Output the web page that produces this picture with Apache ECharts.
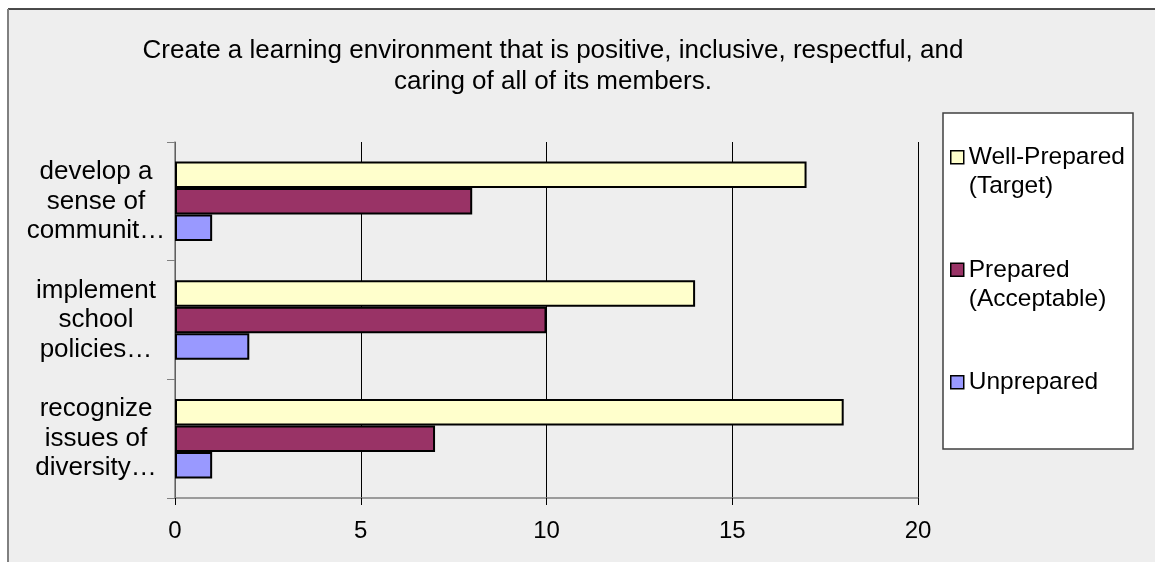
<!DOCTYPE html>
<html>
<head>
<meta charset="utf-8">
<script src="https://cdn.jsdelivr.net/npm/echarts@6/dist/echarts.min.js"></script>
<style>html,body{margin:0;padding:0;background:#fff;}#c{width:1155px;height:562px;}</style>
</head>
<body>
<div id="c"></div>
<script>
const titleText = "Create a learning environment that is positive, inclusive, respectful, and\ncaring of all of its members.";
const categories = ["develop a\nsense of\ncommunit\u2026", "implement\nschool\npolicies\u2026", "recognize\nissues of\ndiversity\u2026"];
const seriesNames = ["Well-Prepared\n(Target)", "Prepared\n(Acceptable)", "Unprepared"];
const wellPrepared = [17, 14, 18];
const prepared = [8, 10, 7];
const unprepared = [1, 2, 1];
const xTicks = [0, 5, 10, 15, 20];
const colors = ["#FFFFCC", "#993366", "#9999FF"];

const FONT = "'Liberation Sans', Arial, sans-serif";
const chart = echarts.init(document.getElementById('c'), null, {renderer: 'canvas'});
const legendIcon = 'path://M0,8h13v13h-13z M0,0 M0,58';

chart.setOption({
  backgroundColor: '#ffffff',
  animation: false,
  graphic: [
    {type: 'rect', shape: {x: 8, y: 9, width: 1160, height: 570}, style: {fill: '#eeeeee'}, z: -10},
    {type: 'line', shape: {x1: 8, y1: 9, x2: 1160, y2: 9}, style: {stroke: '#111', lineWidth: 1.5}, z: -9},
    {type: 'line', shape: {x1: 8, y1: 9, x2: 8, y2: 570}, style: {stroke: '#808080', lineWidth: 2}, z: -9},
    {type: 'rect', shape: {x: 943, y: 113, width: 190, height: 336}, style: {fill: '#ffffff', stroke: '#404040', lineWidth: 1.5}, z: -8}
  ],
  title: {
    text: titleText,
    left: 553,
    top: 35,
    textAlign: 'center',
    padding: 0,
    textStyle: {fontFamily: FONT, fontSize: 26, fontWeight: 'normal', color: '#000', lineHeight: 31}
  },
  legend: {
    orient: 'vertical',
    left: 950,
    top: 142,
    padding: 0,
    itemGap: 53,
    itemWidth: 13,
    itemHeight: 58,
    icon: legendIcon,
    formatter: function (name) { return name.indexOf('\n') >= 0 ? name : name + '\n '; },
    itemStyle: {borderColor: '#000', borderWidth: 1.5},
    textStyle: {fontFamily: FONT, fontSize: 24.5, color: '#000', lineHeight: 29, padding: [0, 0, 0, 0]},
    data: seriesNames
  },
  grid: {left: 175, right: 237, top: 142, bottom: 64, containLabel: false, outerBoundsMode: 'none'},
  xAxis: {
    type: 'value',
    min: xTicks[0],
    max: xTicks[xTicks.length - 1],
    interval: 5,
    axisLine: {show: true, lineStyle: {color: '#808080', width: 1.5}},
    axisTick: {show: true, length: 7, lineStyle: {color: '#000'}},
    axisLabel: {fontFamily: FONT, fontSize: 24, color: '#000', margin: 21},
    splitLine: {show: true, lineStyle: {color: '#000', width: 1}}
  },
  yAxis: {
    type: 'category',
    inverse: true,
    data: categories,
    axisLine: {show: true, lineStyle: {color: '#808080', width: 1.5}},
    axisTick: {show: true, length: 8, lineStyle: {color: '#808080'}},
    axisLabel: {fontFamily: FONT, fontSize: 26, color: '#000', lineHeight: 29.5, align: 'center', margin: 79},
    splitLine: {show: false}
  },
  series: [
    {name: seriesNames[0], type: 'bar', data: wellPrepared, barGap: '0%', barCategoryGap: '33%',
     itemStyle: {color: colors[0], borderColor: '#000', borderWidth: 2}},
    {name: seriesNames[1], type: 'bar', data: prepared, barGap: '0%', barCategoryGap: '33%',
     itemStyle: {color: colors[1], borderColor: '#000', borderWidth: 2}},
    {name: seriesNames[2], type: 'bar', data: unprepared, barGap: '0%', barCategoryGap: '33%',
     itemStyle: {color: colors[2], borderColor: '#000', borderWidth: 2}}
  ]
});
</script>
</body>
</html>
